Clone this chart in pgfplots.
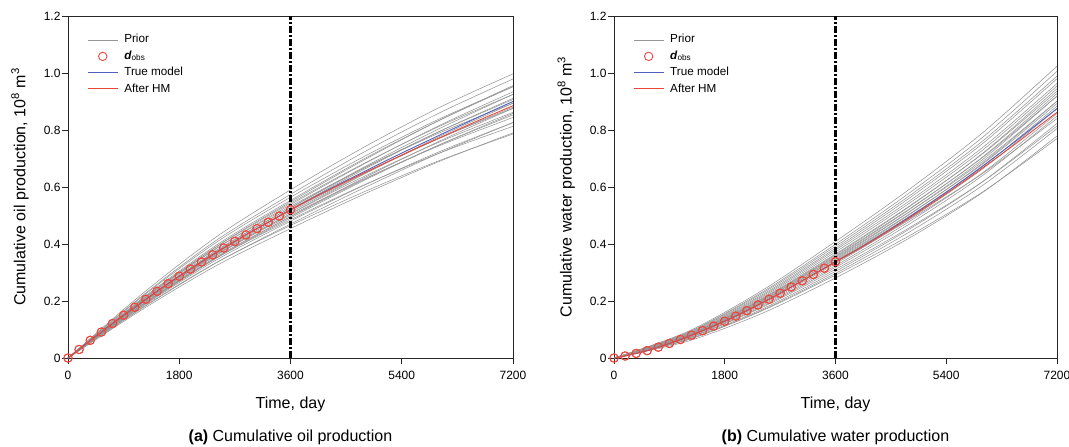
\documentclass[border=0pt]{standalone}
\usepackage{fontspec}
\setmainfont{Liberation Sans}
\usepackage{pgfplots}
\usepackage{pgfplotstable}
\pgfplotsset{compat=1.18}

\definecolor{priorgray}{RGB}{150,150,150}
\definecolor{trueblue}{RGB}{80,95,185}
\definecolor{afterred}{RGB}{232,70,55}
\definecolor{obsred}{RGB}{240,70,60}

\pgfplotstableread{
t c1 c2 c3 c4 c5 c6 c7 c8 c9 c10 c11 c12 c13 c14 c15 c16 c17 c18 c19 c20 c21 c22 c23 c24
0 0 0 0 0 0 0 0 0 0 0 0 0 0 0 0 0 0 0 0 0 0 0 0 0
1200 0.170 0.177 0.175 0.181 0.187 0.183 0.187 0.192 0.188 0.193 0.197 0.195 0.199 0.204 0.202 0.206 0.209 0.215 0.218 0.225 0.192 0.196 0.184 0.205
2400 0.324 0.335 0.334 0.344 0.351 0.350 0.355 0.362 0.360 0.367 0.372 0.372 0.378 0.385 0.384 0.390 0.396 0.406 0.413 0.425 0.364 0.375 0.352 0.391
3600 0.454 0.465 0.470 0.480 0.485 0.491 0.496 0.501 0.506 0.512 0.517 0.522 0.527 0.532 0.538 0.543 0.553 0.564 0.574 0.590 0.506 0.527 0.496 0.548
4800 0.576 0.584 0.598 0.607 0.608 0.624 0.627 0.629 0.646 0.647 0.650 0.663 0.667 0.668 0.682 0.684 0.700 0.708 0.724 0.741 0.638 0.671 0.633 0.696
6000 0.689 0.692 0.718 0.723 0.718 0.747 0.747 0.744 0.776 0.770 0.770 0.794 0.794 0.789 0.815 0.812 0.833 0.838 0.859 0.878 0.757 0.804 0.760 0.833
7200 0.790 0.786 0.826 0.826 0.813 0.858 0.853 0.844 0.894 0.880 0.876 0.911 0.907 0.894 0.934 0.925 0.952 0.952 0.979 0.997 0.862 0.925 0.876 0.956
}\prioroil

\pgfplotstableread{
t c1 c2 c3 c4 c5 c6 c7 c8 c9 c10 c11 c12 c13 c14 c15 c16 c17 c18 c19 c20 c21 c22 c23 c24
0 0 0 0 0 0 0 0 0 0 0 0 0 0 0 0 0 0 0 0 0 0 0 0 0
1200 0.059 0.064 0.064 0.066 0.069 0.069 0.071 0.073 0.075 0.075 0.077 0.076 0.079 0.078 0.080 0.080 0.082 0.083 0.085 0.087 0.089 0.090 0.093 0.076
2400 0.156 0.165 0.167 0.171 0.177 0.180 0.184 0.188 0.192 0.194 0.197 0.198 0.201 0.202 0.205 0.206 0.209 0.213 0.217 0.221 0.226 0.230 0.236 0.193
3600 0.281 0.291 0.297 0.304 0.311 0.318 0.324 0.331 0.338 0.341 0.345 0.348 0.352 0.355 0.358 0.362 0.365 0.372 0.379 0.385 0.392 0.399 0.409 0.335
4800 0.421 0.429 0.442 0.452 0.457 0.470 0.479 0.488 0.497 0.503 0.505 0.513 0.513 0.521 0.523 0.531 0.533 0.543 0.551 0.561 0.569 0.579 0.592 0.485
6000 0.582 0.584 0.607 0.620 0.620 0.642 0.651 0.665 0.673 0.685 0.682 0.698 0.691 0.707 0.705 0.720 0.718 0.731 0.740 0.754 0.763 0.776 0.792 0.649
7200 0.779 0.770 0.805 0.823 0.814 0.849 0.858 0.875 0.884 0.901 0.893 0.919 0.901 0.928 0.919 0.945 0.936 0.954 0.963 0.980 0.989 1.006 1.024 0.840
}\priorwater

\pgfplotstableread{
t v
0 0
180 0.030
360 0.062
540 0.091
720 0.121
900 0.150
1080 0.178
1260 0.206
1440 0.234
1620 0.261
1800 0.287
1980 0.312
2160 0.337
2340 0.362
2520 0.386
2700 0.409
2880 0.432
3060 0.454
3240 0.476
3420 0.498
3600 0.520
}\oilobs

\pgfplotstableread{
t tru hm
0 0 0
180 0.030 0.030
360 0.062 0.062
540 0.091 0.091
720 0.121 0.121
900 0.150 0.150
1080 0.178 0.178
1260 0.206 0.206
1440 0.234 0.234
1620 0.261 0.261
1800 0.287 0.287
1980 0.312 0.312
2160 0.337 0.337
2340 0.362 0.362
2520 0.386 0.386
2700 0.409 0.409
2880 0.432 0.432
3060 0.454 0.454
3240 0.476 0.476
3420 0.498 0.498
3600 0.520 0.520
3960 0.562 0.561
4320 0.603 0.600
4680 0.642 0.638
5040 0.681 0.675
5400 0.719 0.712
5760 0.756 0.748
6120 0.793 0.783
6480 0.829 0.818
6840 0.865 0.852
7200 0.900 0.885
}\oilmodel

\pgfplotstableread{
t v
0 0
180 0.007
360 0.016
540 0.026
720 0.038
900 0.051
1080 0.065
1260 0.080
1440 0.096
1620 0.112
1800 0.129
1980 0.147
2160 0.166
2340 0.186
2520 0.206
2700 0.227
2880 0.249
3060 0.271
3240 0.293
3420 0.315
3600 0.338
}\waterobs

\pgfplotstableread{
t tru hm
0 0 0
180 0.007 0.007
360 0.016 0.016
540 0.026 0.026
720 0.038 0.038
900 0.051 0.051
1080 0.065 0.065
1260 0.080 0.080
1440 0.096 0.096
1620 0.112 0.112
1800 0.129 0.129
1980 0.147 0.147
2160 0.166 0.166
2340 0.186 0.186
2520 0.206 0.206
2700 0.227 0.227
2880 0.249 0.249
3060 0.271 0.271
3240 0.293 0.293
3420 0.315 0.315
3600 0.338 0.338
3960 0.382 0.381
4320 0.429 0.427
4680 0.478 0.475
5040 0.529 0.525
5400 0.582 0.577
5760 0.637 0.631
6120 0.694 0.687
6480 0.753 0.744
6840 0.814 0.803
7200 0.875 0.862
}\watermodel

\pgfplotsset{
  priorsty/.style={color=priorgray, line width=0.55pt, smooth, no markers,
    legend image code/.code={\draw[priorgray, line width=0.55pt] (0pt,0pt) -- (30pt,0pt);}},
  truesty/.style={color=trueblue, line width=0.9pt, smooth, no markers,
    legend image code/.code={\draw[trueblue, line width=0.9pt] (0pt,0pt) -- (30pt,0pt);}},
  aftersty/.style={color=afterred, line width=0.9pt, smooth, no markers,
    legend image code/.code={\draw[afterred, line width=1.1pt] (0pt,0.5pt) -- (30pt,0.5pt);}},
  obssty/.style={only marks, mark=o, mark size=4.2pt, color=obsred, mark options={line width=0.9pt},
    legend image code/.code={\draw[obsred, line width=0.9pt] (15pt,0pt) circle[radius=4.2pt];}},
  divsty/.style={color=black, line width=2.2pt, dash pattern=on 7pt off 2pt on 2pt off 2pt, no markers},
  mystyle/.style={
    scale only axis, width=445pt, height=342pt, anchor=south west,
    xmin=0, xmax=7200, ymin=0, ymax=1.2,
    xtick={0,1800,3600,5400,7200}, xticklabels={0,1800,3600,5400,7200},
    ytick={0,0.2,0.4,0.6,0.8,1.0,1.2}, yticklabels={0,0.2,0.4,0.6,0.8,1.0,1.2},
    tick align=outside, tick pos=left, major tick length=6pt,
    axis line style={line width=0.8pt, black!85},
    tick style={line width=0.8pt, black!85},
    ticklabel style={font=\fontsize{12}{14}\selectfont},
    xticklabel style={yshift=-4pt},
    yticklabel style={xshift=2pt},
    label style={font=\fontsize{16}{19}\selectfont},
    xlabel={Time, day},
    xlabel style={at={(axis description cs:0.5,-0.1345)}, anchor=center},
    ylabel style={at={(axis description cs:-0.108,0.5)}, anchor=center},
    legend cell align=left,
    legend style={draw=none, fill=none, at={(0.0427,0.949)}, anchor=north west,
      font=\fontsize{11.7}{13}\selectfont, row sep=4pt, column sep=5pt, inner sep=0pt,
      nodes={inner sep=1pt, text height=8pt, text depth=2.5pt}},
  },
}

\begin{document}
\begin{tikzpicture}
\useasboundingbox (-68pt,-89pt) rectangle (1001pt,358pt);

\begin{axis}[mystyle, at={(0pt,0pt)},
  ylabel={Cumulative oil production, 10\textsuperscript{8} m\textsuperscript{3}}]
\addplot[priorsty] table[x=t, y=c1]{\prioroil};
\addlegendentry{Prior}
\pgfplotsinvokeforeach{2,...,24}{
  \addplot[priorsty, forget plot] table[x=t, y=c#1]{\prioroil};
}
\addplot[obssty] table[x=t, y=v]{\oilobs};
\addlegendentry{\textbf{\textit{d}}\textsubscript{obs}}
\addplot[truesty] table[x=t, y=tru]{\oilmodel};
\addlegendentry{True model}
\addplot[aftersty] table[x=t, y=hm]{\oilmodel};
\addlegendentry{After HM}
\addplot[obssty, forget plot] table[x=t, y=v]{\oilobs};
\addplot[divsty, forget plot] coordinates {(3600,0) (3600,1.2)};
\end{axis}

\begin{axis}[mystyle, width=443pt, at={(546pt,0pt)},
  ylabel={Cumulative water production, 10\textsuperscript{8} m\textsuperscript{3}}]
\addplot[priorsty] table[x=t, y=c1]{\priorwater};
\addlegendentry{Prior}
\pgfplotsinvokeforeach{2,...,24}{
  \addplot[priorsty, forget plot] table[x=t, y=c#1]{\priorwater};
}
\addplot[obssty] table[x=t, y=v]{\waterobs};
\addlegendentry{\textbf{\textit{d}}\textsubscript{obs}}
\addplot[truesty] table[x=t, y=tru]{\watermodel};
\addlegendentry{True model}
\addplot[aftersty] table[x=t, y=hm]{\watermodel};
\addlegendentry{After HM}
\addplot[obssty, forget plot] table[x=t, y=v]{\waterobs};
\addplot[divsty, forget plot] coordinates {(3600,0) (3600,1.2)};
\end{axis}

\node[font=\fontsize{16}{19}\selectfont] at (222.5pt,-79pt) {\textbf{(a)} Cumulative oil production};
\node[font=\fontsize{16}{19}\selectfont] at (767.5pt,-79pt) {\textbf{(b)} Cumulative water production};
\end{tikzpicture}
\end{document}
